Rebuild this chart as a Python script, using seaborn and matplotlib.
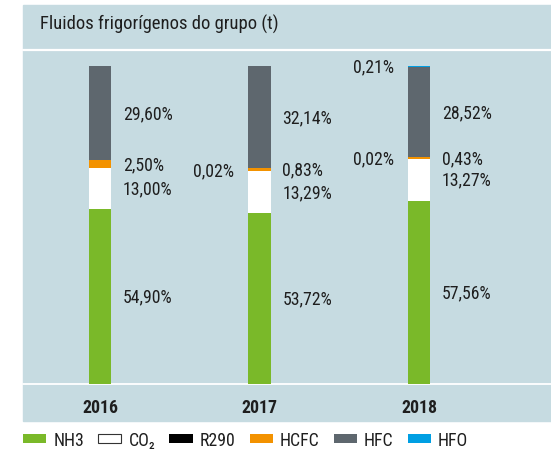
import pandas as pd
import matplotlib.pyplot as plt
from matplotlib.patches import Rectangle, Patch
from matplotlib.lines import Line2D
import seaborn as sns

# chart data (share of refrigerant mass per year, %)
years = ['2016', '2017', '2018']
fluids = ['NH3', 'CO₂', 'R290', 'HCFC', 'HFC', 'HFO']
nh3 = [54.90, 53.72, 57.56]
co2 = [13.00, 13.29, 13.27]
r290 = [0.00, 0.02, 0.02]
hcfc = [2.50, 0.83, 0.43]
hfc = [29.60, 32.14, 28.52]
hfo = [0.00, 0.00, 0.21]
colors = ['#7ab929', '#ffffff', '#000000', '#f39200', '#5e676e', '#009fe3']
left_side = ['R290', 'HFO']
title = 'Fluidos frigorígenos do grupo (t)'

df = pd.DataFrame({'year': years, 'NH3': nh3, 'CO₂': co2, 'R290': r290,
                   'HCFC': hcfc, 'HFC': hfc, 'HFO': hfo})
tops = df[fluids].cumsum(axis=1)

sns.set_style('white')
plt.rcParams['font.family'] = ['Roboto Condensed', 'DejaVu Sans']
panel = '#c6dbe1'
txt = '#1e1e1e'

W, H = 551, 452
fig = plt.figure(figsize=(W / 100, H / 100), dpi=100)

# background panel, title strip and separator lines
fig.patches.append(Rectangle((23 / W, 1 - 422 / H), (W - 23) / W, 416 / H,
                             transform=fig.transFigure, color=panel, zorder=-5))
for yy, lw in [(51, 1.6), (385, 1.3)]:
    fig.add_artist(Line2D([23 / W, 1], [1 - yy / H, 1 - yy / H], color='white',
                          lw=lw, transform=fig.transFigure, zorder=-4))
fig.text(40 / W, 1 - 22 / H, title, fontsize=13.4, color=txt, va='center_baseline')

ax = fig.add_axes([23 / W, 1 - 385 / H, (W - 23) / W, (385 - 52) / H])
ax.patch.set_alpha(0)

# stacked bars: draw cumulative totals from the top layer down
for f, c in reversed(list(zip(fluids, colors))):
    sns.barplot(x=df['year'], y=tops[f], color=c, width=0.14, saturation=1,
                errorbar=None, linewidth=0, ax=ax)

half = 0.07
for i, yr in enumerate(years):
    for f in fluids:
        v = df.loc[i, f]
        if v <= 0:
            continue
        yc = tops.loc[i, f] - v / 2
        lab = f'{v:.2f}'.replace('.', ',') + '%'
        if f in left_side:
            ax.annotate(lab, (i - half, yc), xytext=(-10, 0), textcoords='offset points',
                        ha='right', va='center', fontsize=12.8, color=txt)
        else:
            ax.annotate(lab, (i + half, yc), xytext=(8.5, 0), textcoords='offset points',
                        ha='left', va='center', fontsize=12.8, color=txt)

ax.set_xlim(-0.483, 2.828)
ax.set_ylim(0, 104.7)
ax.set_yticks([])
ax.set_xlabel('')
ax.set_ylabel('')
ax.tick_params(axis='x', length=0, pad=10, labelsize=12.8, labelcolor=txt)
for t in ax.get_xticklabels():
    t.set_fontweight('bold')
sns.despine(ax=ax, left=True, bottom=True)

handles = [Patch(facecolor=c, edgecolor='#333333' if c == '#ffffff' else c,
                 linewidth=0.8 if c == '#ffffff' else 0, label=f)
           for f, c in zip(fluids, colors)]
fig.legend(handles=handles, loc='center left', bbox_to_anchor=(23 / W, 1 - 441 / H),
           ncol=6, frameon=False, handlelength=1.3, handleheight=0.45,
           handletextpad=0.4, columnspacing=0.8, borderpad=0, borderaxespad=0,
           fontsize=12.8, labelcolor=txt)

fig.savefig('out.png', dpi=100)
